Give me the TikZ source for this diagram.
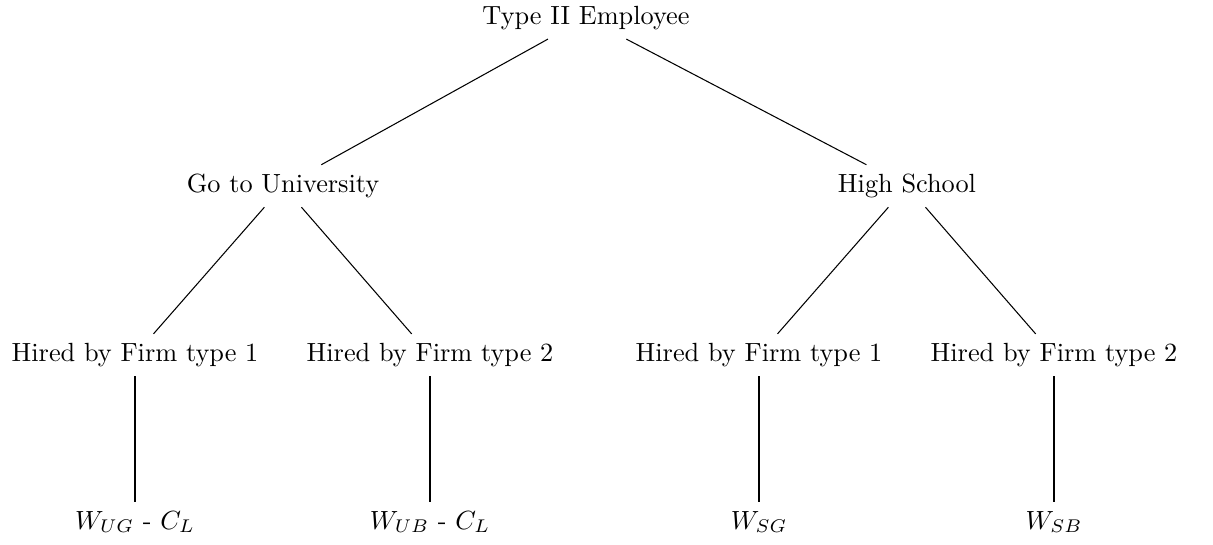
\documentclass[tikz,border=0pt]{standalone}
\usetikzlibrary{positioning}
\begin{document}
\begin{tikzpicture}[
  x=0.01336cm,
  y=-0.01336cm,
  choice/.style={align=center},
  payoff/.style={align=center}
]
  \useasboundingbox (0,0) rectangle (1213,545);

  \node[choice] (employee) at (586,18) {Type II Employee};

  \node[choice] (university) at (283,186) {Go to University};
  \node[choice] (school) at (907,186) {High School};

  \node[choice] (uni firm1) at (135,355) {Hired by Firm type 1};
  \node[choice] (uni firm2) at (430,355) {Hired by Firm type 2};
  \node[choice] (school firm1) at (759,355) {Hired by Firm type 1};
  \node[choice] (school firm2) at (1054,355) {Hired by Firm type 2};

  \node[payoff] (wug) at (135,522) {$W_{UG}$ - $C_L$};
  \node[payoff] (wub) at (430,522) {$W_{UB}$ - $C_L$};
  \node[payoff] (wsg) at (759,522) {$W_{SG}$};
  \node[payoff] (wsb) at (1054,522) {$W_{SB}$};

  \draw (employee) -- (university);
  \draw (employee) -- (school);
  \draw (university) -- (uni firm1);
  \draw (university) -- (uni firm2);
  \draw (school) -- (school firm1);
  \draw (school) -- (school firm2);
  \draw (uni firm1) -- (wug);
  \draw (uni firm2) -- (wub);
  \draw (school firm1) -- (wsg);
  \draw (school firm2) -- (wsb);
\end{tikzpicture}
\end{document}
